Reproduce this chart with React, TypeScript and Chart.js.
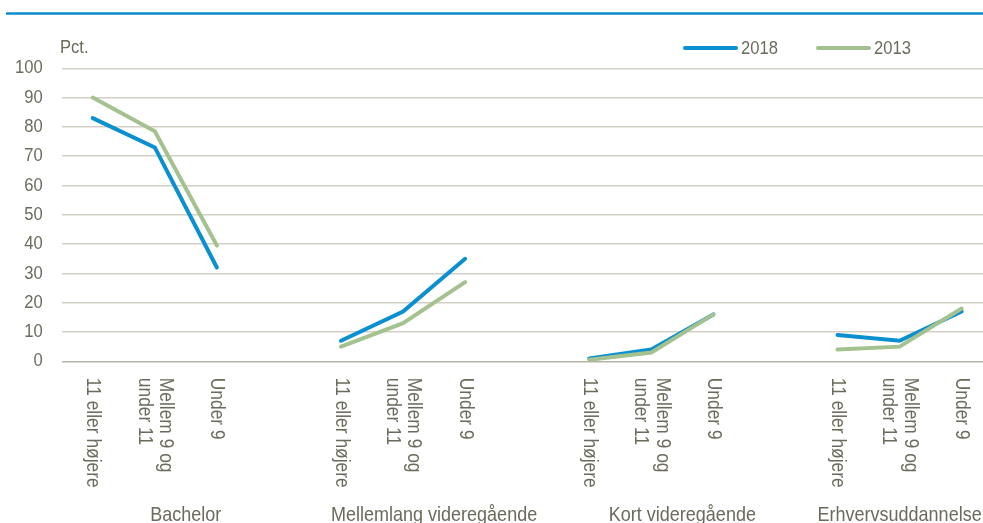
import React, { useEffect, useRef } from "react";
import { Chart, registerables } from "chart.js";

Chart.register(...registerables);

// ---- data ----
const groupNames = ["Bachelor", "Mellemlang videregående", "Kort videregående", "Erhvervsuddannelse"];
const gradeLabels: string[][] = [["11 eller højere"], ["Mellem 9 og", "under 11"], ["Under 9"]];
const values2018 = [83, 73, 32, 7, 17, 35, 1, 4, 16, 9, 7, 17];
const values2013 = [90, 78.5, 39.5, 5, 13, 27, 0.5, 3, 16, 4, 5, 18];
const seriesNames = ["2018", "2013"];
const yTicks = [0, 10, 20, 30, 40, 50, 60, 70, 80, 90, 100];
const unitLabel = "Pct.";

// ---- styles ----
const FONT = "'Liberation Sans', Arial, sans-serif";
const FONT_SIZE = 16.6;
const CAT_SIZE = 17.4;
const GROUP_SIZE = 18;
const STRETCH = 1.12;
const TEXT = "#6b6a5c";
const BLUE = "#0a90d0";
const GREEN = "#a4c290";
const RULE = "#0b8bcc";

// build category slots: each group of 3, a blank slot between groups
const slotLabels: string[][] = [];
const slotGroup: number[] = [];
const data2018: (number | null)[] = [];
const data2013: (number | null)[] = [];
groupNames.forEach((_, g) => {
  gradeLabels.forEach((lab, k) => {
    slotLabels.push(lab);
    slotGroup.push(g);
    data2018.push(values2018[g * gradeLabels.length + k]);
    data2013.push(values2013[g * gradeLabels.length + k]);
  });
  if (g < groupNames.length - 1) {
    slotLabels.push([]);
    slotGroup.push(g);
    data2018.push(null);
    data2013.push(null);
  }
});
const slotKeys = slotLabels.map((l, i) => (l.length ? l.join(" ") : " ".repeat(i + 1)));

function drawText(
  ctx: CanvasRenderingContext2D,
  text: string,
  x: number,
  y: number,
  align: CanvasTextAlign,
  baseline: CanvasTextBaseline
) {
  ctx.save();
  ctx.translate(x, y);
  ctx.scale(1, STRETCH);
  ctx.textAlign = align;
  ctx.textBaseline = baseline;
  ctx.fillText(text, 0, 0);
  ctx.restore();
}

const textPlugin = {
  id: "customText",
  afterDraw(chart: any) {
    const ctx = chart.ctx as CanvasRenderingContext2D;
    const xs = chart.scales.x;
    const ys = chart.scales.y;
    ctx.save();
    // top rule
    ctx.strokeStyle = RULE;
    ctx.lineWidth = 2.5;
    ctx.beginPath();
    ctx.moveTo(6, 13.5);
    ctx.lineTo(chart.width, 13.5);
    ctx.stroke();

    ctx.fillStyle = TEXT;
    ctx.font = `${FONT_SIZE}px ${FONT}`;

    drawText(ctx, unitLabel, 60, 48, "left", "middle");

    // y tick labels
    yTicks.forEach((v) => {
      drawText(ctx, String(v), 42.7, ys.getPixelForValue(v), "right", "middle");
    });

    // legend
    const legendX = [683, 816];
    chart.data.datasets.forEach((ds: any, i: number) => {
      const lx = legendX[i];
      ctx.strokeStyle = ds.borderColor;
      ctx.lineWidth = 4;
      ctx.lineCap = "round";
      ctx.beginPath();
      ctx.moveTo(lx + 2, 48);
      ctx.lineTo(lx + 53, 48);
      ctx.stroke();
      ctx.fillStyle = TEXT;
      drawText(ctx, ds.label, lx + 58, 48.5, "left", "middle");
    });

    // rotated category labels (clockwise)
    ctx.font = `${CAT_SIZE}px ${FONT}`;
    const top = xs.top + 16.5;
    const lh = 21.5;
    slotLabels.forEach((lines, i) => {
      if (!lines.length) return;
      const px = xs.getPixelForValue(i);
      ctx.save();
      ctx.translate(px, top);
      ctx.rotate(Math.PI / 2);
      ctx.scale(1, STRETCH);
      ctx.textAlign = "left";
      ctx.textBaseline = "middle";
      lines.forEach((t, j) => {
        ctx.fillText(t, 0, ((j - (lines.length - 1) / 2) * lh) / STRETCH);
      });
      ctx.restore();
    });

    // group labels
    ctx.font = `${GROUP_SIZE}px ${FONT}`;
    groupNames.forEach((name, g) => {
      const idx = slotGroup.map((v, i) => (v === g ? i : -1)).filter((i) => i >= 0);
      const a = xs.getPixelForValue(idx[0]);
      const b = xs.getPixelForValue(idx[idx.length - 1]);
      drawText(ctx, name, (a + b) / 2, 521, "center", "alphabetic");
    });
    ctx.restore();
  },
};

export default function App() {
  const ref = useRef<HTMLCanvasElement>(null);
  useEffect(() => {
    if (!ref.current) return;
    const chart = new Chart(ref.current, {
      type: "line",
      data: {
        labels: slotKeys,
        datasets: [
          {
            label: seriesNames[0],
            data: data2018,
            borderColor: BLUE,
            backgroundColor: BLUE,
            borderWidth: 4,
            pointRadius: 0,
            borderCapStyle: "round",
            borderJoinStyle: "miter",
            spanGaps: false,
            order: 1,
          },
          {
            label: seriesNames[1],
            data: data2013,
            borderColor: GREEN,
            backgroundColor: GREEN,
            borderWidth: 4,
            pointRadius: 0,
            borderCapStyle: "round",
            borderJoinStyle: "miter",
            spanGaps: false,
            order: 0,
          },
        ],
      },
      options: {
        responsive: false,
        animation: false,
        layout: { padding: { top: 68.3, right: 7.3, bottom: 0, left: 0 } },
        plugins: { legend: { display: false }, tooltip: { enabled: false }, title: { display: false } },
        scales: {
          x: {
            type: "category",
            offset: true,
            grid: { display: false },
            border: { display: false },
            ticks: { display: false },
            afterFit: (s: any) => {
              s.height = 523 - 361.3;
            },
          },
          y: {
            min: 0,
            max: 100,
            afterBuildTicks: (s: any) => {
              s.ticks = yTicks.map((v) => ({ value: v }));
            },
            ticks: { display: false },
            grid: {
              drawTicks: false,
              lineWidth: 1.5,
              color: (c: any) => (c.tick && c.tick.value === 0 ? "#b5b2a6" : "#d2cfc6"),
            },
            border: { display: false },
            afterFit: (s: any) => {
              s.width = 61.7;
            },
          },
        },
      },
      plugins: [textPlugin],
    });
    return () => chart.destroy();
  }, []);
  return (
    <div
      style={{
        position: "fixed",
        left: 0,
        top: 0,
        width: 983,
        height: 523,
        overflow: "hidden",
        background: "#fff",
      }}
    >
      <canvas ref={ref} width={1000} height={523} style={{ display: "block", width: 1000, height: 523 }} />
    </div>
  );
}
